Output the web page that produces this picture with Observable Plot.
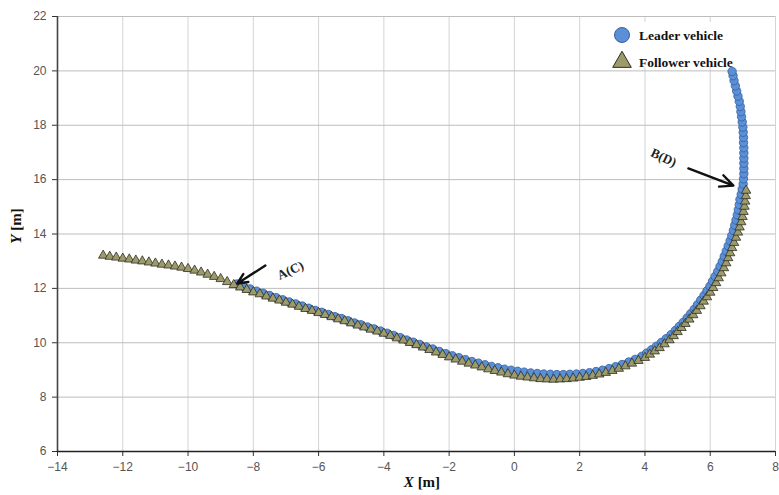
<!DOCTYPE html>
<html>
<head>
<meta charset="utf-8">
<script src="https://cdn.jsdelivr.net/npm/d3@7"></script>
<script src="https://cdn.jsdelivr.net/npm/@observablehq/plot@0.6"></script>
<style>
  html, body { margin: 0; padding: 0; background: #fff; }
  #chart { width: 779px; height: 495px; }
</style>
</head>
<body>
<div id="chart"></div>
<script>
// Follower vehicle (triangles)
const followerX = [-12.6,-12.4,-12.2,-12.0,-11.8,-11.6,-11.4,-11.2,-11.0,-10.8,-10.6,-10.4,-10.2,-10.0,-9.8,-9.6,-9.4,-9.2,-9.0,-8.8,-8.6,-8.4,-8.2,-8.0,-7.8,-7.6,-7.4,-7.2,-7.0,-6.8,-6.6,-6.4,-6.2,-6.0,-5.8,-5.6,-5.4,-5.2,-5.0,-4.8,-4.6,-4.4,-4.2,-4.0,-3.8,-3.6,-3.4,-3.2,-3.0,-2.8,-2.6,-2.4,-2.2,-2.0,-1.8,-1.6,-1.4,-1.2,-1.0,-0.8,-0.6,-0.4,-0.2,0.0,0.2,0.4,0.6,0.8,1.0,1.2,1.4,1.6,1.8,2.0,2.2,2.4,2.6,2.8,3.0,3.2,3.4,3.6,3.8,4.0,4.15,4.3,4.45,4.6,4.75,4.88,5.0,5.12,5.24,5.36,5.48,5.59,5.70,5.80,5.90,6.0,6.09,6.18,6.26,6.34,6.42,6.49,6.55,6.61,6.67,6.73,6.79,6.85,6.90,6.95,6.99,7.02,7.05,7.07,7.09,7.10];
const followerY = [13.21,13.17,13.14,13.10,13.07,13.03,13.00,12.96,12.92,12.88,12.85,12.81,12.77,12.72,12.66,12.59,12.51,12.43,12.35,12.24,12.13,12.04,11.95,11.86,11.79,11.71,11.63,11.56,11.48,11.41,11.33,11.25,11.18,11.10,11.03,10.95,10.87,10.80,10.72,10.64,10.57,10.49,10.42,10.34,10.26,10.17,10.09,10.00,9.92,9.83,9.74,9.65,9.56,9.47,9.39,9.31,9.24,9.17,9.10,9.03,8.97,8.91,8.85,8.80,8.76,8.73,8.70,8.67,8.66,8.65,8.66,8.67,8.69,8.72,8.75,8.79,8.84,8.90,8.97,9.05,9.14,9.24,9.34,9.45,9.57,9.69,9.81,9.95,10.10,10.25,10.40,10.55,10.70,10.86,11.02,11.18,11.35,11.52,11.68,11.85,12.02,12.20,12.38,12.56,12.75,12.93,13.12,13.30,13.49,13.68,13.87,14.06,14.25,14.44,14.63,14.82,15.01,15.20,15.40,15.60];

// Leader vehicle (circles)
const leaderX = [-8.5,-8.3,-8.1,-7.9,-7.7,-7.5,-7.3,-7.1,-6.9,-6.7,-6.5,-6.3,-6.1,-5.9,-5.7,-5.5,-5.3,-5.1,-4.9,-4.7,-4.5,-4.3,-4.1,-3.9,-3.7,-3.5,-3.3,-3.1,-2.9,-2.7,-2.5,-2.3,-2.1,-1.9,-1.7,-1.5,-1.3,-1.1,-0.9,-0.7,-0.5,-0.3,-0.1,0.1,0.3,0.5,0.7,0.9,1.1,1.3,1.5,1.7,1.9,2.1,2.3,2.5,2.7,2.9,3.1,3.3,3.5,3.7,3.9,4.05,4.2,4.35,4.5,4.65,4.8,4.93,5.05,5.17,5.29,5.40,5.51,5.61,5.71,5.81,5.90,5.99,6.07,6.15,6.23,6.30,6.37,6.43,6.49,6.55,6.61,6.66,6.71,6.75,6.79,6.83,6.86,6.89,6.91,6.95,6.98,7.01,7.02,7.03,7.03,7.03,7.03,7.03,7.03,7.02,7.02,7.01,7.00,6.98,6.96,6.94,6.92,6.89,6.85,6.81,6.77,6.73,6.70,6.67];
const leaderY = [12.16,12.07,11.98,11.90,11.82,11.74,11.66,11.58,11.50,11.43,11.35,11.27,11.19,11.12,11.04,10.96,10.89,10.81,10.73,10.66,10.58,10.51,10.43,10.35,10.27,10.19,10.10,10.02,9.94,9.85,9.77,9.68,9.60,9.52,9.45,9.38,9.31,9.25,9.19,9.13,9.08,9.03,8.99,8.95,8.92,8.89,8.87,8.85,8.84,8.83,8.83,8.84,8.85,8.87,8.90,8.94,8.99,9.05,9.12,9.20,9.29,9.39,9.50,9.62,9.74,9.87,10.01,10.15,10.30,10.45,10.60,10.75,10.91,11.07,11.23,11.40,11.57,11.74,11.91,12.08,12.26,12.44,12.62,12.81,12.99,13.18,13.37,13.56,13.75,13.94,14.13,14.32,14.51,14.70,14.89,15.08,15.27,15.46,15.65,15.84,16.03,16.22,16.41,16.60,16.79,16.98,17.17,17.36,17.55,17.74,17.93,18.12,18.31,18.50,18.69,18.88,19.07,19.26,19.45,19.64,19.82,19.98];

// Axis ticks
const xTicks = [-14,-12,-10,-8,-6,-4,-2,0,2,4,6,8];
const yTicks = [6,8,10,12,14,16,18,20,22];

// Annotations
const annLabels = ["A(C)", "B(D)"];
const annTextX = [-6.86, 4.57];
const annTextY = [12.66, 16.81];
const annRotate = [-25, 25];
const arrowX1 = [-7.63, 5.33];
const arrowY1 = [12.84, 16.41];
const arrowX2 = [-8.49, 6.71];
const arrowY2 = [12.18, 15.78];

const seriesNames = ["Leader vehicle", "Follower vehicle"];

const leader = leaderX.map((x, i) => ({x, y: leaderY[i]}));
const follower = followerX.map((x, i) => ({x, y: followerY[i]}));
const ann = annLabels.map((t, i) => ({t, x: annTextX[i], y: annTextY[i], r: annRotate[i],
  x1: arrowX1[i], y1: arrowY1[i], x2: arrowX2[i], y2: arrowY2[i]}));

const serif = "'Liberation Serif', 'DejaVu Serif', serif";
const tickFont = "'Liberation Sans Narrow', 'Liberation Sans', Arial, sans-serif";

const W = 779, H = 495;
const mL = 57, mR = 4, mT = 16, mB = 44;

const chart = Plot.plot({
  width: W, height: H,
  marginLeft: mL, marginRight: mR, marginTop: mT, marginBottom: mB,
  style: {background: "#fff", fontFamily: tickFont},
  x: {domain: [-14, 8], label: null},
  y: {domain: [6, 22], label: null},
  marks: [
    Plot.gridX(xTicks, {stroke: "#d4d4d4", strokeOpacity: 1, strokeWidth: 1}),
    Plot.gridY(yTicks, {stroke: "#bdbdbd", strokeOpacity: 1, strokeWidth: 1}),
    Plot.axisX(xTicks, {tickSize: 5, tickPadding: 6, fontSize: 12, fill: "#555", stroke: "#333"}),
    Plot.axisY(yTicks, {tickSize: 5, tickPadding: 6, fontSize: 12, fill: "#555", stroke: "#333"}),
    Plot.ruleX([-14], {stroke: "#444", strokeWidth: 1.6}),
    Plot.ruleY([6], {stroke: "#222", strokeWidth: 1.6}),
    Plot.dot(leader, {x: "x", y: "y", r: 4.2, symbol: "circle", fill: "#5b8fd6", stroke: "#35609f", strokeWidth: 0.8}),
    Plot.dot(follower, {x: "x", y: "y", r: 3.5, symbol: "triangle", fill: "#9d9b6b", stroke: "#2e2e22", strokeWidth: 0.8}),
    Plot.arrow(ann, {x1: "x1", y1: "y1", x2: "x2", y2: "y2", stroke: "#111", strokeWidth: 2.4, headLength: 9, headAngle: 50}),
    Plot.text(ann, {x: "x", y: "y", text: "t", rotate: "r", fontFamily: serif, fontWeight: "bold", fontSize: 13, fill: "#222"})
  ]
});

const svg = d3.select(chart);

// Legend
const leg = svg.append("g").attr("text-anchor", "start");
leg.append("rect").attr("x", 608).attr("y", 22).attr("width", 112).attr("height", 45).attr("fill", "#fff");
leg.append("circle").attr("cx", 622).attr("cy", 35).attr("r", 7.5).attr("fill", "#5b8fd6").attr("stroke", "#35609f").attr("stroke-width", 1);
leg.append("path").attr("d", d3.symbol(d3.symbolTriangle, 150)()).attr("transform", "translate(622,62)").attr("fill", "#9d9b6b").attr("stroke", "#2e2e22").attr("stroke-width", 1);
leg.append("text").attr("x", 639).attr("y", 35).attr("dy", "0.35em").attr("font-family", serif).attr("font-weight", "bold").attr("font-size", 13.5).attr("fill", "#111").text(seriesNames[0]);
leg.append("text").attr("x", 639).attr("y", 62).attr("dy", "0.35em").attr("font-family", serif).attr("font-weight", "bold").attr("font-size", 13.5).attr("fill", "#111").text(seriesNames[1]);

// Axis titles
const xt = svg.append("text").attr("x", 422).attr("y", 487).attr("text-anchor", "middle")
  .attr("font-family", serif).attr("font-weight", "bold").attr("font-size", 15).attr("fill", "#111");
xt.append("tspan").attr("font-style", "italic").text("X");
xt.append("tspan").text(" [m]");
const yt = svg.append("text").attr("transform", "translate(21,226) rotate(-90)").attr("text-anchor", "middle")
  .attr("font-family", serif).attr("font-weight", "bold").attr("font-size", 15).attr("fill", "#111");
yt.append("tspan").attr("font-style", "italic").text("Y");
yt.append("tspan").text(" [m]");

document.getElementById("chart").appendChild(chart);
</script>
</body>
</html>
